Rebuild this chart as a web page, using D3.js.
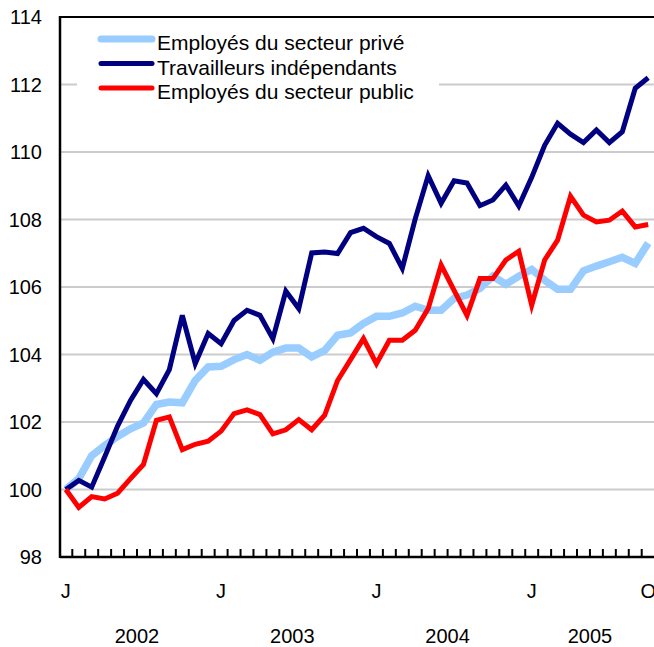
<!DOCTYPE html>
<html>
<head>
<meta charset="utf-8">
<script src="https://cdn.jsdelivr.net/npm/d3@7"></script>
<style>
  body { margin: 0; background: #fff; }
  svg { display: block; font-family: 'Liberation Sans', Arial, Helvetica, sans-serif; }
</style>
</head>
<body>
<svg id="chart" width="654" height="647"></svg>
<script>
// monthly index, Jan 2002 = 100 (Jan 2002 .. Oct 2005)
const prive = [100, 100.32, 101.0, 101.3, 101.57, 101.8, 101.97, 102.52, 102.59, 102.57,
  103.23, 103.63, 103.65, 103.85, 104.0, 103.83, 104.07, 104.19, 104.19, 103.93,
  104.12, 104.57, 104.64, 104.92, 105.13, 105.13, 105.23, 105.43, 105.31, 105.31,
  105.66, 105.76, 105.96, 106.32, 106.08, 106.32, 106.52, 106.2, 105.93, 105.93,
  106.48, 106.62, 106.75, 106.88, 106.7, 107.3]

const independants = [100, 100.27, 100.07, 100.96, 101.88, 102.64, 103.26, 102.84, 103.55, 105.16,
  103.73, 104.62, 104.32, 105.01, 105.31, 105.16, 104.47, 105.88, 105.36, 107.01,
  107.04, 106.99, 107.61, 107.74, 107.49, 107.29, 106.55, 108.02, 109.3, 108.48,
  109.15, 109.08, 108.41, 108.58, 109.02, 108.4, 109.25, 110.2, 110.85, 110.53,
  110.28, 110.65, 110.28, 110.6, 111.89, 112.2]

const public_ = [100, 99.47, 99.79, 99.72, 99.89, 100.32, 100.74, 102.05, 102.15, 101.18,
  101.34, 101.43, 101.73, 102.25, 102.36, 102.22, 101.65, 101.77, 102.07, 101.77,
  102.2, 103.23, 103.85, 104.47, 103.73, 104.42, 104.42, 104.72, 105.36, 106.65,
  105.9, 105.16, 106.25, 106.25, 106.8, 107.06, 105.46, 106.8, 107.39, 108.69,
  108.13, 107.93, 107.98, 108.25, 107.78, 107.85]

const seriesNames = ['Employés du secteur privé', 'Travailleurs indépendants', 'Employés du secteur public']
const seriesColors = ['#99ccff', '#000080', '#ff0000']
const seriesWidths = [7.5, 5, 5]

const monthLabels = [[0, 'J'], [12, 'J'], [24, 'J'], [36, 'J'], [45, 'O']]
const yearLabels = [[0, 11, '2002'], [12, 23, '2003'], [24, 35, '2004'], [36, 45, '2005']]
const yTicks = [98, 100, 102, 104, 106, 108, 110, 112, 114]

const svg = d3.select('#chart')
const plotLeft = 60
const plotTop = 17
const plotBottom = 557
const plotRight = 654

const x = d3.scaleLinear().domain([-0.45, 45.45]).range([plotLeft, plotRight])
const y = d3.scaleLinear().domain([98, 114]).range([plotBottom, plotTop])

// gridlines
svg.append('g')
  .selectAll('line')
  .data(yTicks.filter(d => d > 98 && d < 114))
  .join('line')
  .attr('x1', plotLeft).attr('x2', plotRight)
  .attr('y1', d => y(d)).attr('y2', d => y(d))
  .attr('stroke', '#cccccc')
  .attr('stroke-width', 2)

// y labels
svg.append('g')
  .selectAll('text')
  .data(yTicks)
  .join('text')
  .attr('x', 42)
  .attr('y', d => y(d) + 7)
  .attr('text-anchor', 'end')
  .attr('font-size', 20)
  .attr('fill', '#000')
  .text(d => d)

// lines
const line = d3.line()
  .x((d, i) => x(i))
  .y(d => y(d))

const allSeries = [prive, independants, public_]
allSeries.forEach((s, k) => {
  svg.append('path')
    .datum(s)
    .attr('d', line)
    .attr('fill', 'none')
    .attr('stroke', seriesColors[k])
    .attr('stroke-width', seriesWidths[k])
    .attr('stroke-linejoin', 'miter')
})

// frame
svg.append('line').attr('x1', plotLeft).attr('x2', plotRight).attr('y1', plotTop).attr('y2', plotTop)
  .attr('stroke', '#000').attr('stroke-width', 2)
svg.append('line').attr('x1', plotLeft).attr('x2', plotRight).attr('y1', plotBottom).attr('y2', plotBottom)
  .attr('stroke', '#000').attr('stroke-width', 2.5)
svg.append('line').attr('x1', plotLeft).attr('x2', plotLeft).attr('y1', plotTop - 1).attr('y2', plotBottom + 1)
  .attr('stroke', '#000').attr('stroke-width', 2.5)

// month ticks between months
svg.append('g')
  .selectAll('line')
  .data(d3.range(0, 45))
  .join('line')
  .attr('x1', d => x(d + 0.5)).attr('x2', d => x(d + 0.5))
  .attr('y1', plotBottom).attr('y2', plotBottom - 8)
  .attr('stroke', '#000')
  .attr('stroke-width', 2)

svg.append('g')
  .selectAll('text')
  .data(monthLabels)
  .join('text')
  .attr('x', d => x(d[0]))
  .attr('y', 598)
  .attr('text-anchor', 'middle')
  .attr('font-size', 20)
  .text(d => d[1])

svg.append('g')
  .selectAll('text')
  .data(yearLabels)
  .join('text')
  .attr('x', d => (x(d[0]) + x(d[1])) / 2)
  .attr('y', 643)
  .attr('text-anchor', 'middle')
  .attr('font-size', 20)
  .text(d => d[2])

// legend
const legend = svg.append('g')
legend.append('rect')
  .attr('x', 77).attr('y', 22).attr('width', 362).attr('height', 82)
  .attr('fill', '#fff')
seriesNames.forEach((name, k) => {
  const ly = 39 + k * 24.5
  legend.append('line')
    .attr('x1', 101).attr('x2', 152)
    .attr('y1', ly).attr('y2', ly)
    .attr('stroke', seriesColors[k])
    .attr('stroke-width', k === 0 ? 7 : 5)
    .attr('stroke-linecap', 'round')
  legend.append('text')
    .attr('x', 157)
    .attr('y', ly + 11)
    .attr('font-size', 21)
    .text(name)
})
</script>
</body>
</html>
